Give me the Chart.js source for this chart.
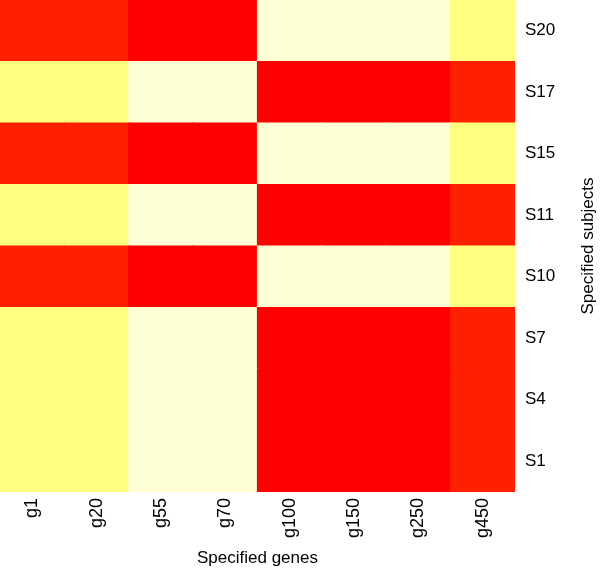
<!DOCTYPE html>
<html>
<head>
<meta charset="utf-8">
<script src="https://cdn.jsdelivr.net/npm/chart.js@4.4.0/dist/chart.umd.min.js"></script>
<style>
  body { margin: 0; background: #fff; }
  #wrap { width: 600px; height: 572px; }
</style>
</head>
<body>
<div id="wrap"><canvas id="heat"></canvas></div>
<script>
const genes = ['g1', 'g20', 'g55', 'g70', 'g100', 'g150', 'g250', 'g450'];
const subjects = ['S20', 'S17', 'S15', 'S11', 'S10', 'S7', 'S4', 'S1'];

// values per subject (top row first), one per gene
const rowS20 = [1.6, 1.5, 0.3, 0.4, 11.6, 11.5, 11.4, 10.6];
const rowS17 = [10.5, 10.4, 11.5, 11.6, 0.4, 0.3, 0.5, 1.5];
const rowS15 = [1.5, 1.6, 0.4, 0.3, 11.5, 11.6, 11.5, 10.5];
const rowS11 = [10.6, 10.5, 11.4, 11.5, 0.3, 0.4, 0.5, 1.6];
const rowS10 = [1.4, 1.5, 0.5, 0.4, 11.4, 11.5, 11.6, 10.4];
const rowS7 = [10.5, 10.6, 11.5, 11.4, 0.4, 0.3, 0.6, 1.5];
const rowS4 = [10.4, 10.5, 11.6, 11.5, 0.3, 0.4, 0.5, 1.4];
const rowS1 = [10.6, 10.4, 11.5, 11.6, 0.4, 0.5, 0.6, 1.5];

// heat.colors(12)
const palette = ['#FF0000', '#FF2000', '#FF4000', '#FF6000', '#FF8000', '#FF9F00',
  '#FFBF00', '#FFDF00', '#FFFF00', '#FFFF2A', '#FFFF80', '#FFFFD5'];

function colorFor(v) {
  const i = Math.max(0, Math.min(palette.length - 1, Math.floor(v)));
  return palette[i];
}

const rows = [rowS20, rowS17, rowS15, rowS11, rowS10, rowS7, rowS4, rowS1];

// stacked bars are built bottom-up, so reverse the row order
const datasets = rows.slice().reverse().map((row, i) => ({
  label: subjects[subjects.length - 1 - i],
  data: genes.map(() => 1),
  backgroundColor: row.map(colorFor),
  borderWidth: 0,
  inflateAmount: 0.6,
  barPercentage: 1,
  categoryPercentage: 1,
  stack: 'cells'
}));

const font = { family: '"Liberation Sans", Arial, sans-serif', size: 17 };
const tickFontX = { family: '"Liberation Sans", Arial, sans-serif', size: 18 };

// right-hand title reads bottom-to-top, which the axis title can't do on the right
const sideTitle = {
  id: 'sideTitle',
  afterDraw(chart) {
    const ctx = chart.ctx;
    const area = chart.chartArea;
    ctx.save();
    ctx.translate(chart.width - 12, (area.top + area.bottom) / 2);
    ctx.rotate(-Math.PI / 2);
    ctx.font = '17px "Liberation Sans", Arial, sans-serif';
    ctx.fillStyle = '#000';
    ctx.textAlign = 'center';
    ctx.textBaseline = 'middle';
    ctx.fillText('Specified subjects', 0, 0);
    ctx.restore();
  }
};

new Chart(document.getElementById('heat'), {
  type: 'bar',
  data: { labels: genes, datasets: datasets },
  options: {
    responsive: true,
    maintainAspectRatio: false,
    animation: false,
    layout: { padding: 0 },
    plugins: {
      legend: { display: false },
      tooltip: { enabled: false }
    },
    scales: {
      x: {
        stacked: true,
        grid: { display: false, drawTicks: false },
        border: { display: false },
        ticks: { color: '#000', font: tickFontX, minRotation: 90, maxRotation: 90, padding: 6, autoSkip: false },
        title: { display: true, text: 'Specified genes', color: '#000', font: font, padding: { top: 0, bottom: 3 } },
        afterFit(scale) {
          scale.height = 80;
          scale.paddingLeft = 0;
          scale.paddingRight = 0;
        }
      },
      y: {
        stacked: true,
        display: false,
        min: 0,
        max: 8
      },
      yl: {
        type: 'category',
        position: 'right',
        labels: subjects,
        offset: true,
        grid: { display: false, drawTicks: false },
        border: { display: false },
        ticks: { color: '#000', font: font, padding: 10 },
        afterFit(scale) {
          scale.width = 85;
          scale.paddingTop = 0;
          scale.paddingBottom = 0;
        }
      }
    }
  },
  plugins: [sideTitle]
});
</script>
</body>
</html>
